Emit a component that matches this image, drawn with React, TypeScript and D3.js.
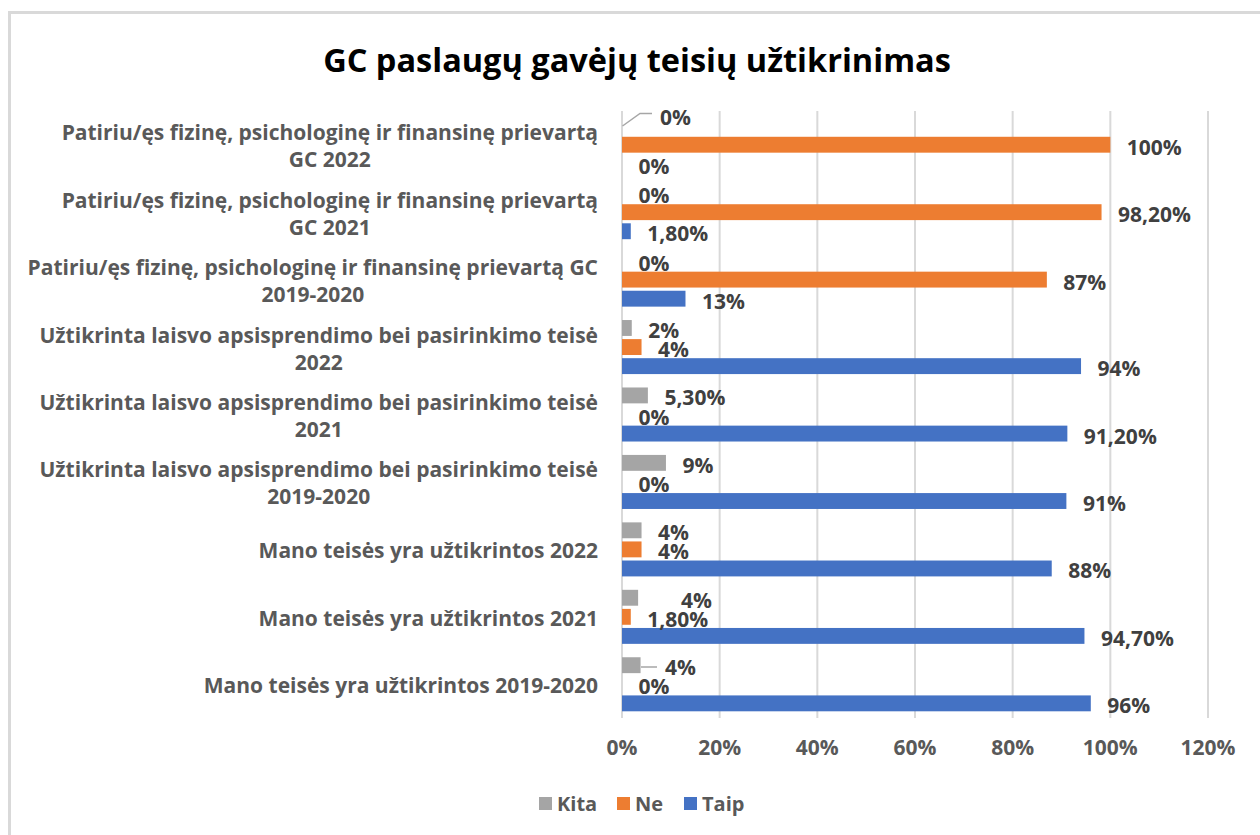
import React, { useEffect, useRef } from "react";
import * as d3 from "d3";

const TITLE = "GC paslaugų gavėjų teisių užtikrinimas";

const categories: string[][] = [
  ["Patiriu/ęs fizinę, psichologinę ir finansinę prievartą", "GC 2022"],
  ["Patiriu/ęs fizinę, psichologinę ir finansinę prievartą", "GC 2021"],
  ["Patiriu/ęs fizinę, psichologinę ir finansinę prievartą GC", "2019-2020"],
  ["Užtikrinta laisvo apsisprendimo bei pasirinkimo teisė", "2022"],
  ["Užtikrinta laisvo apsisprendimo bei pasirinkimo teisė", "2021"],
  ["Užtikrinta laisvo apsisprendimo bei pasirinkimo teisė", "2019-2020"],
  ["Mano teisės yra užtikrintos 2022"],
  ["Mano teisės yra užtikrintos 2021"],
  ["Mano teisės yra užtikrintos 2019-2020"],
];

const seriesNames = ["Kita", "Ne", "Taip"];

const kita = [0, 0, 0, 2, 5.3, 9, 4, 3.3, 3.8];
const ne = [100, 98.2, 87, 4, 0, 0, 4, 1.8, 0];
const taip = [0, 1.8, 13, 94, 91.2, 91, 88, 94.7, 96];

const kitaLabels = ["0%", "0%", "0%", "2%", "5,30%", "9%", "4%", "4%", "4%"];
const neLabels = ["100%", "98,20%", "87%", "4%", "0%", "0%", "4%", "1,80%", "0%"];
const taipLabels = ["0%", "1,80%", "13%", "94%", "91,20%", "91%", "88%", "94,70%", "96%"];

const xTicks = [0, 20, 40, 60, 80, 100, 120];

const COLORS: Record<string, string> = { Kita: "#A5A5A5", Ne: "#ED7D31", Taip: "#4472C4" };
const FONT = "'Open Sans', sans-serif";

export default function App() {
  const ref = useRef<SVGSVGElement>(null);

  useEffect(() => {
    const svg = d3.select(ref.current);
    svg.selectAll("*").remove();

    const W = 1260, H = 835;
    const x = d3.scaleLinear().domain([0, 120]).range([622, 1208]);
    const y = d3.scaleBand<number>().domain(d3.range(categories.length)).range([111, 718]);
    const inner = d3
      .scaleBand<string>()
      .domain(seriesNames)
      .range([6.7, y.bandwidth() - 6.7])
      .paddingInner(0.167)
      .paddingOuter(0);

    const values: Record<string, number[]> = { Kita: kita, Ne: ne, Taip: taip };
    const labels: Record<string, string[]> = { Kita: kitaLabels, Ne: neLabels, Taip: taipLabels };

    svg.append("rect").attr("width", W).attr("height", H).attr("fill", "#fff");
    // chart border (only top & left visible)
    svg
      .append("rect")
      .attr("x", 9.5)
      .attr("y", 12.5)
      .attr("width", 1400)
      .attr("height", 1000)
      .attr("fill", "none")
      .attr("stroke", "#D9D9D9")
      .attr("stroke-width", 3);

    // title
    svg
      .append("text")
      .attr("x", 637)
      .attr("y", 59)
      .attr("text-anchor", "middle")
      .attr("dominant-baseline", "central")
      .attr("font-family", FONT)
      .attr("font-weight", 700)
      .attr("font-size", 32.5)
      .attr("fill", "#000")
      .text(TITLE);

    // gridlines
    svg
      .append("g")
      .selectAll("line")
      .data(xTicks)
      .join("line")
      .attr("x1", (d) => x(d))
      .attr("x2", (d) => x(d))
      .attr("y1", 111)
      .attr("y2", 718)
      .attr("stroke", "#D9D9D9")
      .attr("stroke-width", 2);

    // tick labels
    svg
      .append("g")
      .selectAll("text")
      .data(xTicks)
      .join("text")
      .attr("x", (d) => x(d))
      .attr("y", 747)
      .attr("text-anchor", "middle")
      .attr("dominant-baseline", "central")
      .attr("font-family", FONT)
      .attr("font-weight", 700)
      .attr("font-size", 21)
      .attr("fill", "#595959")
      .text((d) => `${d}%`);

    // category labels
    const catG = svg.append("g");
    categories.forEach((lines, i) => {
      const cy = (y(i) as number) + y.bandwidth() / 2;
      const g = catG.append("g");
      const n = lines.length;
      const texts = lines.map((ln, k) =>
        g
          .append("text")
          .attr("y", cy + (k - (n - 1) / 2) * 27 + 1)
          .attr("dominant-baseline", "central")
          .attr("font-family", FONT)
          .attr("font-weight", 700)
          .attr("font-size", 21)
          .attr("fill", "#595959")
          .text(ln)
      );
      const widths = texts.map((t) => (t.node() as SVGTextElement).getComputedTextLength());
      const maxW = Math.max(...widths);
      texts.forEach((t) => t.attr("text-anchor", "middle").attr("x", 598 - maxW / 2));
    });

    // bars
    seriesNames.forEach((s) => {
      svg
        .append("g")
        .selectAll("rect")
        .data(values[s])
        .join("rect")
        .attr("x", x(0))
        .attr("y", (_d, i) => (y(i) as number) + (inner(s) as number))
        .attr("width", (d) => x(d) - x(0))
        .attr("height", inner.bandwidth())
        .attr("fill", COLORS[s]);
    });

    // manual label placement (as moved in the original)
    const overrides: Record<string, { x?: number; dy?: number; leader?: [number, number][] }> = {
      "Kita-0": { x: 660, dy: -11, leader: [[622.5, 126], [640, 113.5], [652, 113.5]] },
      "Kita-7": { x: 681 },
      "Kita-8": { x: 665, leader: [[641, 667], [657, 667]] },
    };

    seriesNames.forEach((s) => {
      values[s].forEach((v, i) => {
        const cy = (y(i) as number) + (inner(s) as number) + inner.bandwidth() / 2;
        const o = overrides[`${s}-${i}`] || {};
        const lx = o.x ?? x(v) + 16.5;
        const ly = cy + 2 + (o.dy ?? 0);
        if (o.leader) {
          svg
            .append("path")
            .attr("d", d3.line()(o.leader))
            .attr("fill", "none")
            .attr("stroke", "#A6A6A6")
            .attr("stroke-width", 1.5);
        }
        svg
          .append("text")
          .attr("x", lx)
          .attr("y", ly)
          .attr("dominant-baseline", "central")
          .attr("font-family", FONT)
          .attr("font-weight", 700)
          .attr("font-size", 21)
          .attr("fill", "#404040")
          .text(labels[s][i]);
      });
    });

    // legend
    const legendItems = [
      { name: "Kita", sx: 539, tx: 557 },
      { name: "Ne", sx: 617, tx: 635 },
      { name: "Taip", sx: 684, tx: 702 },
    ];
    const lg = svg.append("g");
    legendItems.forEach((it) => {
      lg.append("rect")
        .attr("x", it.sx)
        .attr("y", 797)
        .attr("width", 13)
        .attr("height", 13)
        .attr("fill", COLORS[it.name]);
      lg.append("text")
        .attr("x", it.tx)
        .attr("y", 803)
        .attr("dominant-baseline", "central")
        .attr("font-family", FONT)
        .attr("font-weight", 700)
        .attr("font-size", 20)
        .attr("fill", "#595959")
        .text(it.name);
    });
  }, []);

  return (
    <svg
      ref={ref}
      width={1260}
      height={835}
      style={{ position: "absolute", left: 0, top: 0, display: "block" }}
    />
  );
}
